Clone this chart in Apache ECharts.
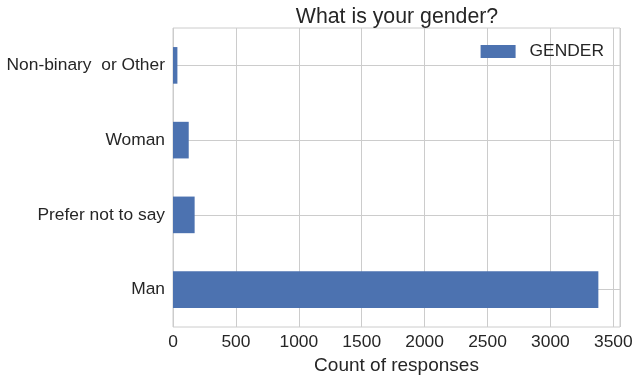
<!DOCTYPE html>
<html>
<head>
<meta charset="utf-8">
<script src="https://cdn.jsdelivr.net/npm/echarts@6/dist/echarts.min.js"></script>
<style>
  html, body { margin: 0; padding: 0; background: #fff; }
  #chart { width: 639px; height: 379px; }
</style>
</head>
<body>
<div id="chart"></div>
<script>
// categories listed bottom to top
const categories = ['Man', 'Prefer not to say', 'Woman', 'Non-binary  or Other']
const counts = [3381, 172, 125, 35]
const xTicks = [0, 500, 1000, 1500, 2000, 2500, 3000, 3500]

const ink = '#262626'
const gridGrey = '#cccccc'
const font = 'Liberation Sans, Arial, sans-serif'
const fs = 17.4

const chart = echarts.init(document.getElementById('chart'), null, { renderer: 'canvas' })

chart.setOption({
  animation: false,
  textStyle: { fontFamily: font },
  title: {
    text: 'What is your gender?',
    left: 392,
    top: 2,
    textAlign: 'center',
    textStyle: { fontSize: 21.3, fontWeight: 'normal', color: ink, fontFamily: font },
  },
  legend: {
    right: 30,
    top: 38,
    icon: 'rect',
    itemWidth: 35,
    itemHeight: 13,
    textStyle: { fontSize: fs, color: ink, fontFamily: font, padding: [0, 0, 0, 9] },
    data: ['GENDER'],
  },
  grid: {
    left: 173, right: 19, top: 28, bottom: 52,
    containLabel: false,
    outerBoundsMode: 'none',
    show: true, borderColor: gridGrey, borderWidth: 1,
  },
  xAxis: {
    type: 'value',
    min: 0,
    max: 3553,
    interval: 500,
    name: 'Count of responses',
    nameLocation: 'middle',
    nameGap: 24,
    nameTextStyle: { fontSize: 19, color: ink, fontFamily: font },
    axisLine: { show: false },
    axisTick: { show: false },
    axisLabel: {
      fontSize: fs, color: ink, margin: 7, fontFamily: font,
      showMaxLabel: false,
      formatter: (v) => (xTicks.includes(v) ? String(v) : ''),
    },
    splitLine: { show: true, lineStyle: { color: gridGrey, width: 1 } },
  },
  yAxis: {
    type: 'category',
    data: categories,
    axisLine: { show: false },
    axisTick: { show: false },
    axisLabel: { fontSize: fs, color: ink, margin: 8, fontFamily: font },
    splitLine: { show: false },
  },
  series: [
    {
      name: 'GENDER',
      type: 'bar',
      data: counts,
      barWidth: '49%',
      z: 3,
      itemStyle: { color: '#4c72b0' },
      // horizontal grid lines at category centres, kept under the bars
      markLine: {
        z: 1,
        silent: true,
        symbol: 'none',
        label: { show: false },
        lineStyle: { color: gridGrey, width: 1, type: 'solid' },
        data: categories.map((c) => ({ yAxis: c })),
      },
    },
  ],
})
</script>
</body>
</html>
